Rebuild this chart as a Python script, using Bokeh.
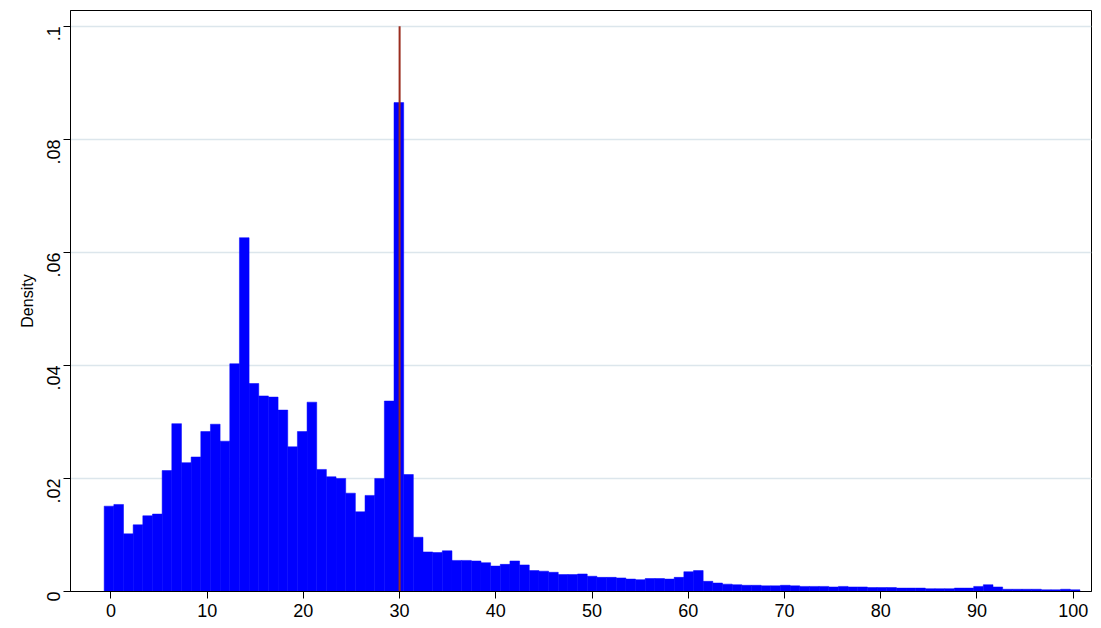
import math
from bokeh.plotting import figure
from bokeh.models import FixedTicker, Range1d
from bokeh.embed import file_html
from bokeh.resources import INLINE

# density per bin (bins of width ~1, from 0 to 100)
density = [
    0.0151, 0.0154, 0.0102, 0.0118, 0.0134, 0.0137, 0.0214, 0.0297, 0.0228, 0.0238,
    0.0283, 0.0296, 0.0266, 0.0403, 0.0626, 0.0368, 0.0346, 0.0344, 0.0321, 0.0256,
    0.0283, 0.0335, 0.0216, 0.0203, 0.0200, 0.0174, 0.0141, 0.0170, 0.0200, 0.0337,
    0.0865, 0.0207, 0.0096, 0.0070, 0.0069, 0.0072, 0.0055, 0.0055, 0.0054, 0.0051,
    0.0045, 0.0048, 0.0054, 0.0047, 0.0037, 0.0036, 0.0034, 0.0030, 0.0030, 0.0031,
    0.0027, 0.0025, 0.0025, 0.0024, 0.0022, 0.0021, 0.0023, 0.0023, 0.0022, 0.0025,
    0.0035, 0.0037, 0.0018, 0.0015, 0.0013, 0.0012, 0.0011, 0.0011, 0.0010, 0.0010,
    0.0011, 0.0010, 0.0009, 0.0009, 0.0009, 0.0008, 0.0009, 0.0008, 0.0008, 0.0007,
    0.0007, 0.0007, 0.0006, 0.0006, 0.0006, 0.0005, 0.0005, 0.0005, 0.0006, 0.0006,
    0.0009, 0.0012, 0.0008, 0.0004, 0.0004, 0.0004, 0.0004, 0.0003, 0.0003, 0.0004,
    0.0003,
]
first_edge, last_edge = -0.7, 100.7
x_ticks = [0, 10, 20, 30, 40, 50, 60, 70, 80, 90, 100]
y_ticks = [0, 0.02, 0.04, 0.06, 0.08, 0.1]
y_labels = {0: "0", 0.02: ".02", 0.04: ".04", 0.06: ".06", 0.08: ".08", 0.1: ".1"}
ref_x = 30
ref_top = 0.1

n = len(density)
w = (last_edge - first_edge) / n
lefts = [first_edge + i * w for i in range(n)]
rights = [l + w for l in lefts]

p = figure(frame_width=1021, frame_height=581, min_border_left=70, min_border_top=10,
           min_border_right=2, min_border_bottom=28,
           x_range=Range1d(-4.2, 101.9), y_range=Range1d(0, 0.1028),
           output_backend="svg", toolbar_location=None)
p.outline_line_color = "black"
p.outline_line_alpha = 1
p.outline_line_width = 1

p.quad(left=lefts, right=rights, bottom=0, top=density,
       fill_color="#0000ff", line_color="#0000ff", line_width=0.5)
p.segment(x0=[ref_x], y0=[0], x1=[ref_x], y1=[ref_top], line_color="#9b2d1f", line_width=2)

p.xgrid.visible = False
p.ygrid.grid_line_color = "#dce6ec"
p.ygrid.grid_line_width = 1.5

p.xaxis.ticker = FixedTicker(ticks=x_ticks)
p.yaxis.ticker = FixedTicker(ticks=y_ticks)
p.yaxis.major_label_overrides = y_labels
p.yaxis.major_label_orientation = math.pi / 2
p.yaxis.major_label_standoff = 10
p.yaxis.axis_label = "Density"
p.yaxis.axis_label_text_font_style = "normal"
p.yaxis.axis_label_standoff = 2
for ax in (p.xaxis, p.yaxis):
    ax.major_label_text_font = "Liberation Sans"
    ax.major_label_text_font_size = "18px"
    ax.major_label_text_color = "black"
    ax.axis_label_text_font = "Liberation Sans"
    ax.axis_label_text_font_size = "16px"
    ax.axis_label_text_color = "black"
    ax.axis_line_color = "black"
    ax.major_tick_line_color = "black"
    ax.major_tick_out = 7
    ax.major_tick_in = 0
    ax.minor_tick_line_color = None

open("out.html", "w").write(file_html(p, INLINE))
